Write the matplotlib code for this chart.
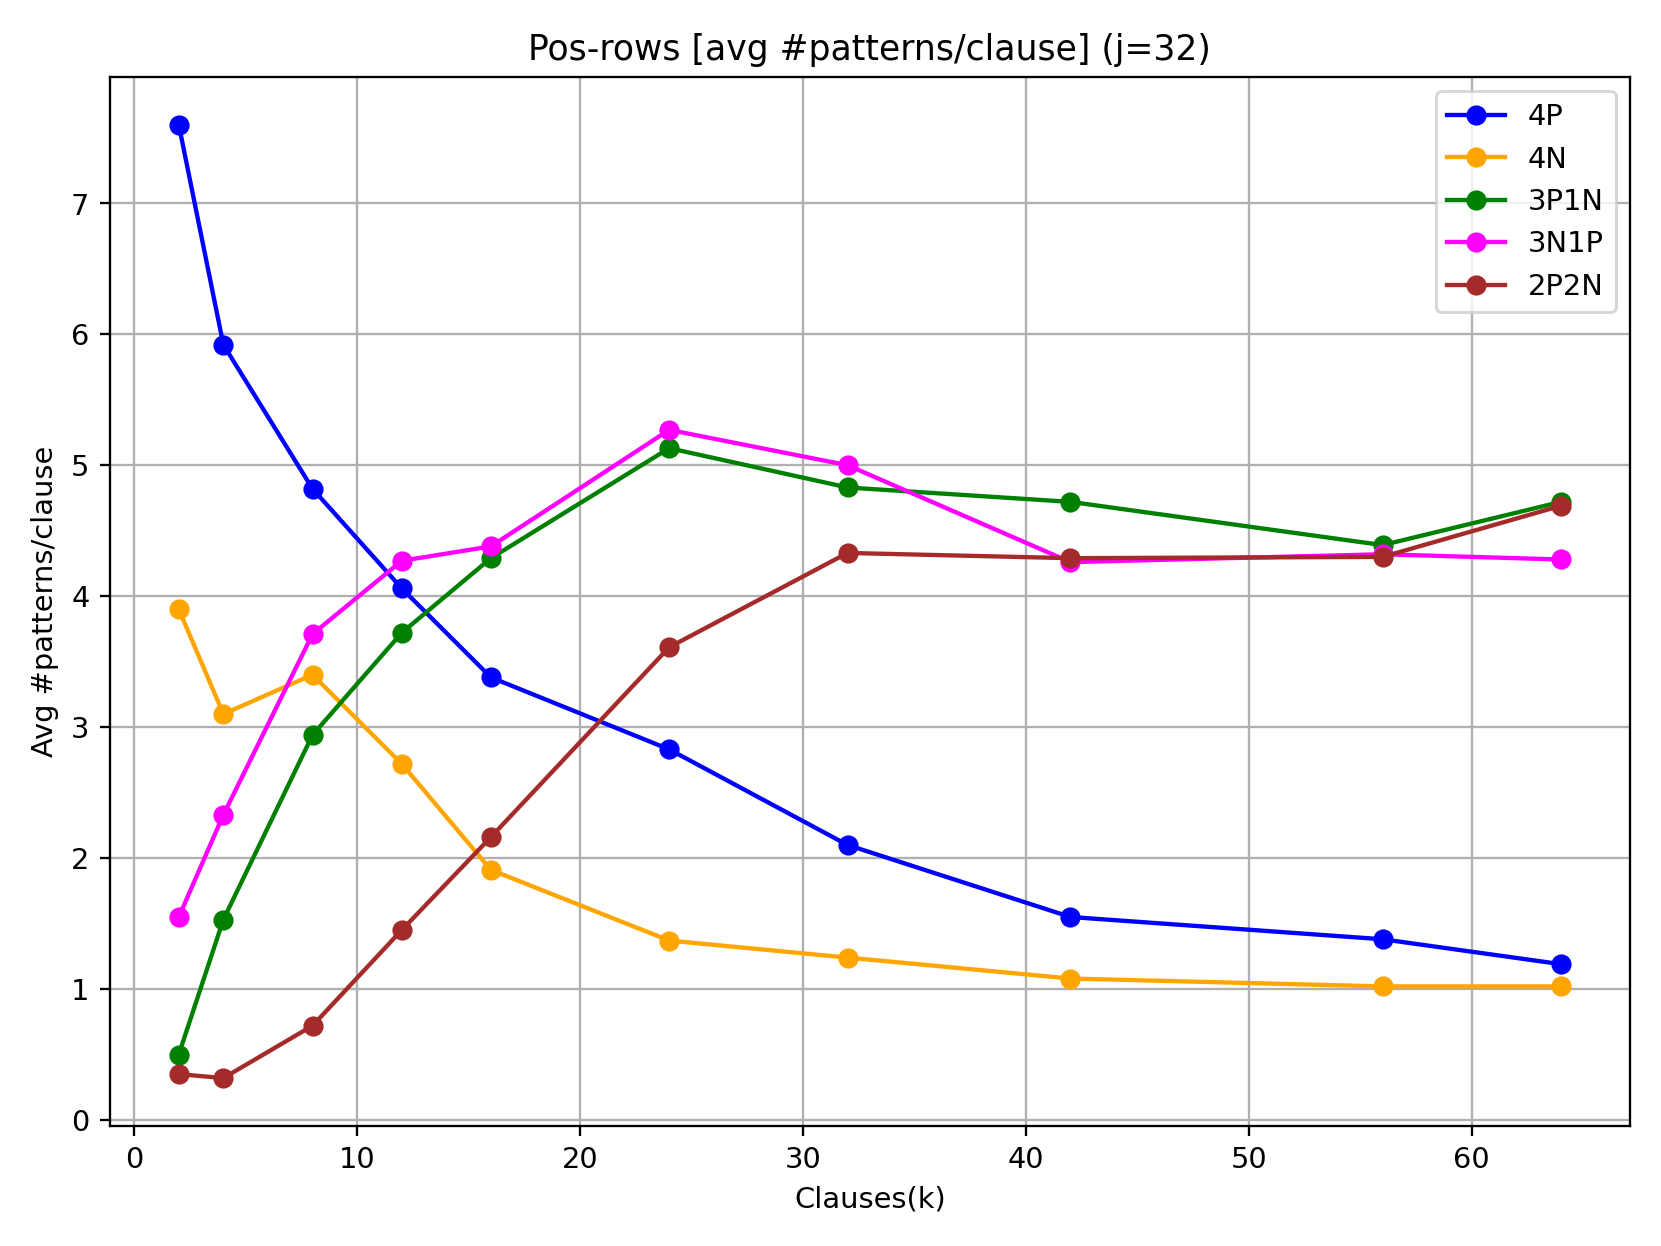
import matplotlib
matplotlib.use("Agg")
import matplotlib.pyplot as plt

# clauses (k)
clauses = [2, 4, 8, 12, 16, 24, 32, 42, 56, 64]

# avg #patterns/clause per pattern type
p4 = [7.60, 5.92, 4.82, 4.06, 3.38, 2.83, 2.10, 1.55, 1.38, 1.19]
n4 = [3.90, 3.10, 3.40, 2.72, 1.91, 1.37, 1.24, 1.08, 1.02, 1.02]
p3n1 = [0.50, 1.53, 2.94, 3.72, 4.29, 5.13, 4.83, 4.72, 4.39, 4.72]
n3p1 = [1.55, 2.33, 3.71, 4.27, 4.38, 5.27, 5.00, 4.26, 4.32, 4.28]
p2n2 = [0.35, 0.32, 0.72, 1.45, 2.16, 3.61, 4.33, 4.29, 4.30, 4.69]

series = [("4P", p4, "blue"),
          ("4N", n4, "orange"),
          ("3P1N", p3n1, "green"),
          ("3N1P", n3p1, "magenta"),
          ("2P2N", p2n2, "brown")]

fig, ax = plt.subplots(figsize=(8, 6), dpi=207.7)

for name, vals, col in series:
    ax.plot(clauses, vals, marker='o', color=col, label=name)

ax.set_title("Pos-rows [avg #patterns/clause] (j=32)")
ax.set_xlabel("Clauses(k)")
ax.set_ylabel("Avg #patterns/clause")
ax.grid(True)
ax.legend(loc='upper right')

plt.subplots_adjust(left=0.066, right=0.981, top=0.938, bottom=0.0965)
plt.savefig("out.png", dpi=207.7)
